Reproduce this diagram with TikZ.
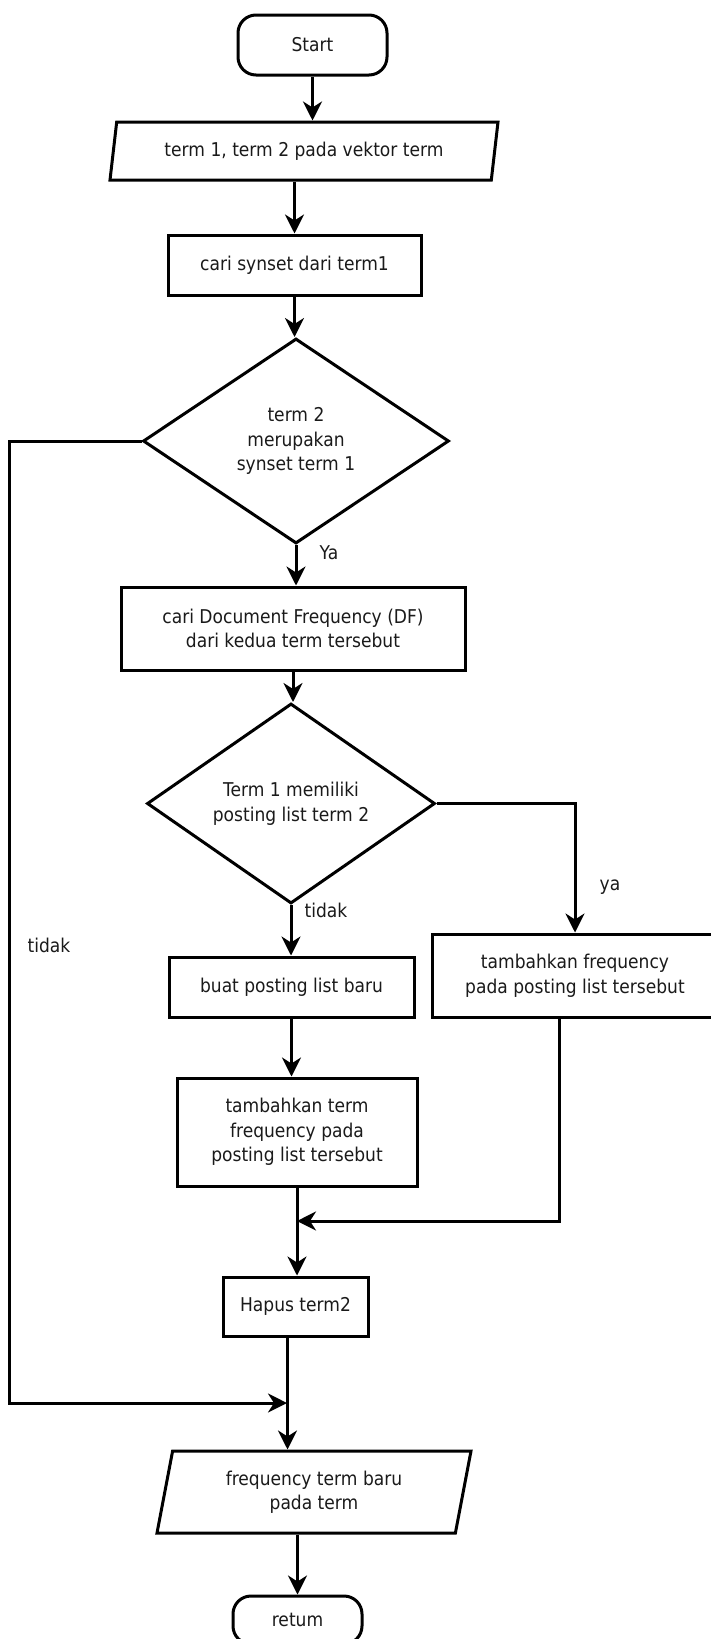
\documentclass[tikz,border=0pt]{standalone}
\usepackage{fontspec}
\setmainfont{DejaVu Sans}[FakeStretch=0.9]
\usetikzlibrary{shapes.geometric,arrows.meta}
\definecolor{ink}{HTML}{1A1A1A}
\begin{document}
\begin{tikzpicture}[x=1pt,y=-1pt,
  font=\fontsize{19}{24.5}\selectfont,
  line width=3pt,
  flow/.style={draw=black, line width=3pt, align=center, text=ink, inner sep=0pt},
  proc/.style={flow, rectangle},
  term/.style={flow, rectangle, rounded corners=18pt},
  io/.style={flow, trapezium, trapezium left angle=70, trapezium right angle=110, trapezium stretches body},
  dec/.style={flow, diamond},
  arr/.style={draw=black, line width=3pt, -{Stealth[length=19pt,width=19pt,inset=6pt]}},
  lbl/.style={inner sep=0pt, text=ink}
]
\useasboundingbox (0,0) rectangle (710,1639);

% main column
\node[term, minimum width=149pt, minimum height=60pt] (start) at (312.5,45) {Start};
\node[io, minimum width=388pt, minimum height=58pt] (p1) at (304,151) {term 1, term 2 pada vektor term};
\node[proc, minimum width=253pt, minimum height=60pt] (b1) at (294.5,265) {cari synset dari term1};
\node[dec, minimum width=306pt, minimum height=205pt] (d1) at (296,441) {term 2\\merupakan\\synset term 1};
\node[proc, minimum width=344pt, minimum height=83pt] (b2) at (293,628.5) {cari Document Frequency (DF)\\dari kedua term tersebut};
\node[dec, minimum width=288pt, minimum height=200pt] (d2) at (291,803.5) {Term 1 memiliki\\posting list term 2};
\node[proc, minimum width=286pt, minimum height=83pt] (b3) at (575,975.5) {tambahkan frequency\\pada posting list tersebut};
\node[proc, minimum width=245pt, minimum height=60pt] (b4) at (291.5,987) {buat posting list baru};
\node[proc, minimum width=240pt, minimum height=108pt] (b5) at (297,1132) {tambahkan term\\frequency pada\\posting list tersebut};
\node[proc, minimum width=145pt, minimum height=59pt] (del) at (295.5,1306.5) {Hapus term2};
\node[io, minimum width=314pt, minimum height=82pt] (p2) at (314,1492) {frequency term baru\\pada term};
\node[term, minimum width=129pt, minimum height=48pt] (ret) at (297.5,1620) {retum};

% branch labels
\node[lbl] (lya1) at (329,553) {Ya};
\node[lbl] (ltd1) at (326,910) {tidak};
\node[lbl] (ltd2) at (49,945) {tidak};
\node[lbl] (lya2) at (610,887) {ya};

% junction points
\coordinate (mj) at (297,1221);
\coordinate (lj) at (287,1403);
\coordinate (lc) at (9,1403);

% connectors
\draw[arr] (start.south) -- (start.south |- p1.north);
\draw[arr] (p1.south -| b1.north) -- (b1.north);
\draw[arr] (b1.south) -- (b1.south |- d1.north);
\draw[arr] (d1.south) -- (d1.south |- b2.north);
\draw[arr] (b2.south) -- (b2.south |- d2.north);
\draw[arr] (d2.south) -- (d2.south |- b4.north);
\draw[arr] (d2.east) -| (b3.north);
\draw[arr] (b4.south) -- (b4.south |- b5.north);
\draw[arr] (b5.south) -- (b5.south |- del.north);
\draw[arr] ([xshift=-16pt]b3.south) |- (mj);
\draw[arr] ([xshift=-8pt]del.south) -- ([xshift=-8pt]del.south |- p2.north);
\draw[arr] (d1.west) -| (lc) -- (lj);
\draw[arr] (p2.south -| ret.north) -- (ret.north);
\end{tikzpicture}
\end{document}
